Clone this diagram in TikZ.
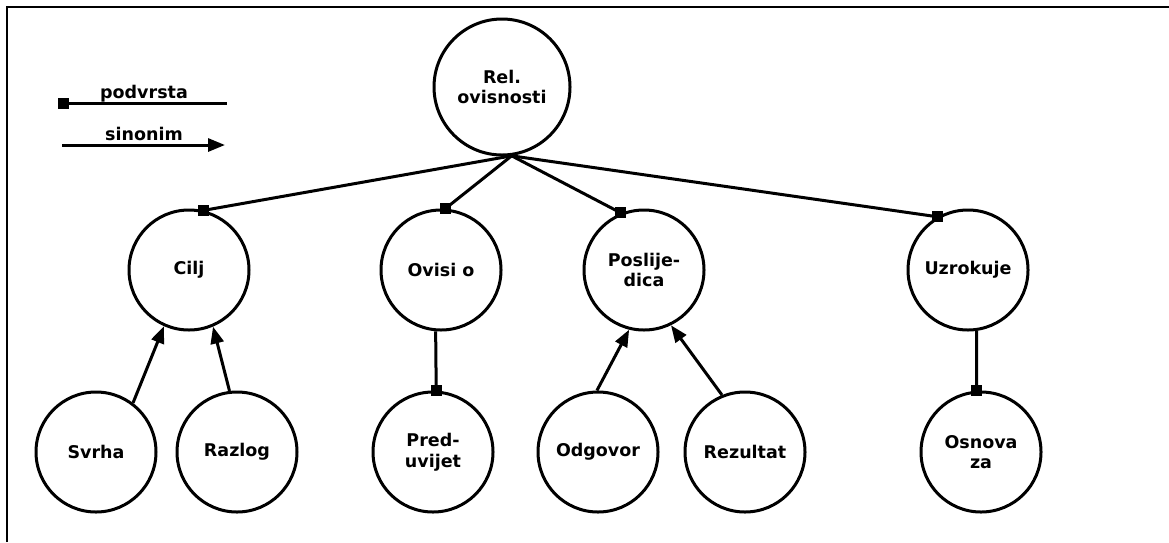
\documentclass[tikz,border=0pt]{standalone}
\usepackage{fontspec}
\setmainfont{DejaVu Sans}
\usetikzlibrary{arrows.meta}
\begin{document}
\begin{tikzpicture}[x=1pt,y=-1pt,
  txt/.style={font=\fontsize{17.5}{20.5}\selectfont\bfseries},
  concept/.style={circle,draw,line width=3pt,minimum size=120pt,inner sep=0pt,align=center,txt},
  subtype/.style={line width=3pt},
  sq/.style={rectangle,fill=black,minimum size=11pt,inner sep=0pt},
  synonym/.style={line width=3pt,-{Triangle[length=17pt,width=13pt]}},
  lbl/.style={txt,inner sep=0pt,anchor=base}
]
\useasboundingbox (0,0) rectangle (1169,542);
\draw[line width=2pt] (6.7,542) -- (6.7,6.7) -- (1169,6.7);

% legend
\coordinate (pa) at (63,103);
\coordinate (pb) at (227,103);
\draw[subtype] (pa) -- (pb);
\node[sq] (sqleg) at (pa) {};
\node[lbl] (lpod) at (144,98) {podvrsta};
\coordinate (sa) at (62,145);
\coordinate (sb) at (225,145);
\draw[synonym] (sa) -- (sb);
\node[lbl] (lsin) at (144,140) {sinonim};

% nodes
\node[concept,minimum size=136pt] (rel) at (502,87) {Rel.\\ovisnosti};
\node[concept] (cilj) at (189,270) {Cilj};
\node[concept] (ovisi) at (441,270) {Ovisi o};
\node[concept] (posl) at (644,270) {Poslije-\\dica};
\node[concept] (uzrok) at (968,270) {Uzrokuje};
\node[concept] (svrha) at (96,452) {Svrha};
\node[concept] (razlog) at (237,452) {Razlog};
\node[concept] (pred) at (433,452) {Pred-\\uvijet};
\node[concept] (odgovor) at (598,452) {Odgovor};
\node[concept] (rezultat) at (745,452) {Rezultat};
\node[concept] (osnova) at (981,452) {Osnova\\za};

\coordinate (hub) at (rel.278);

% connectors
\draw[subtype] (hub) -- (cilj.76);
\draw[subtype] (hub) -- (ovisi.86);
\draw[subtype] (hub) -- (posl.112);
\draw[subtype] (hub) -- (uzrok.120);
\draw[subtype] (ovisi.265) -- (pred.87);
\draw[subtype] (uzrok.278) -- (osnova.94);
\node[sq] (s1) at (cilj.76) {};
\node[sq] (s2) at (ovisi.86) {};
\node[sq] (s3) at (posl.112) {};
\node[sq] (s4) at (uzrok.120) {};
\node[sq] (s5) at (pred.87) {};
\node[sq] (s6) at (osnova.94) {};
\draw[synonym] (svrha.53) -- (cilj.246);
\draw[synonym] (razlog.97) -- (cilj.293);
\draw[synonym] (odgovor.91) -- (posl.256);
\draw[synonym] (rezultat.112) -- (posl.296);
\end{tikzpicture}
\end{document}
